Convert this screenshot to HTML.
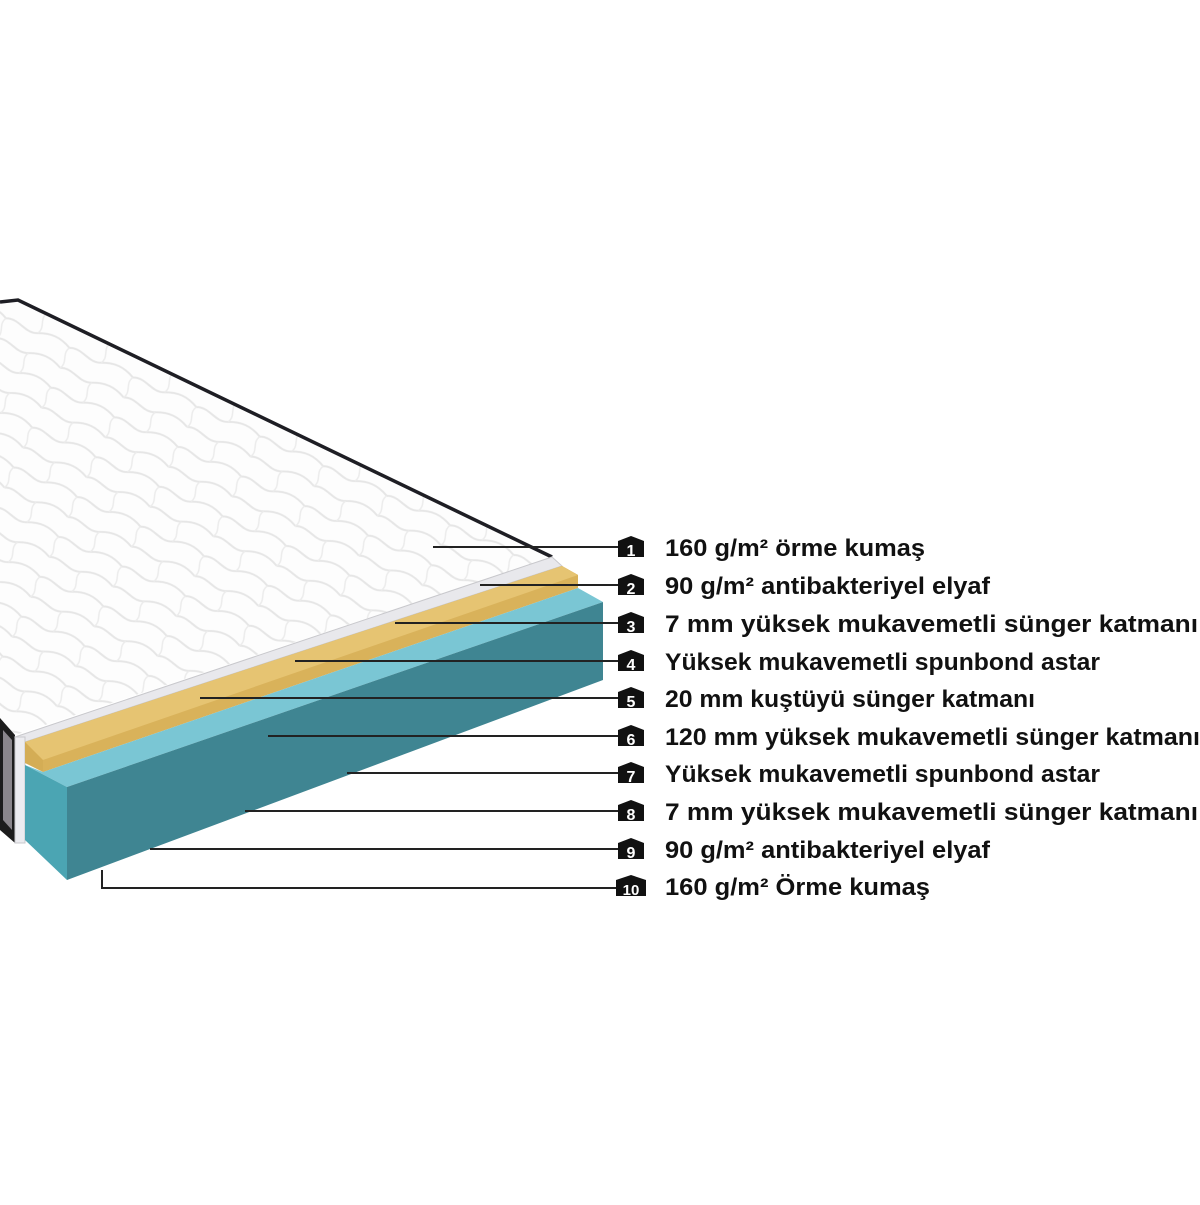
<!DOCTYPE html>
<html><head><meta charset="utf-8"><style>
body{margin:0;background:#fff;width:1200px;height:1200px;overflow:hidden;font-family:"Liberation Sans",sans-serif}
</style></head><body>
<svg width="1200" height="1200" viewBox="0 0 1200 1200" xmlns="http://www.w3.org/2000/svg">
<defs>
<pattern id="q" width="70" height="44" patternUnits="userSpaceOnUse" patternTransform="rotate(25)">
<rect width="70" height="44" fill="#fdfdfd"/>
<path d="M0 22 C12 16,23 28,35 22 S58 16,70 22" fill="none" stroke="#e6e6e6" stroke-width="2"/>
<path d="M0 0 C12 -6,23 6,35 0 S58 -6,70 0 M0 44 C12 38,23 50,35 44 S58 38,70 44" fill="none" stroke="#e6e6e6" stroke-width="2"/>
<path d="M35 0 C30 8,40 14,35 22 M0 22 C-5 30,5 36,0 44 M70 22 C65 30,75 36,70 44" fill="none" stroke="#ececec" stroke-width="1.5"/>
</pattern>
<clipPath id="top"><polygon points="0,300 18,299 552,557 15,735 0,725"/></clipPath>
</defs>
<polygon points="0,300 18,299 552,557 15,735 0,725" fill="#fbfbfb"/>
<rect x="0" y="280" width="600" height="480" fill="url(#q)" clip-path="url(#top)"/>
<polyline points="0,302 18,300 552,557" fill="none" stroke="#1e1e24" stroke-width="3.5"/>
<polygon points="0,718 15,735 15,843 0,830" fill="#1c1c1c"/>
<polygon points="3,730 12,740 12,830 3,820" fill="#8a868c"/>
<polygon points="552,557 562,566 25,742 15,737" fill="#e8e8ec" stroke="#c8c8cc" stroke-width="1"/>
<rect x="15" y="737" width="10" height="106" fill="#ececf0" stroke="#c8c8cc" stroke-width="1"/>
<polygon points="562,566 578,575 43,772 25,763 25,742" fill="#d4ad55"/>
<polygon points="562,566 578,575 578,588 43,772 43,760" fill="#d9b25a"/>
<polygon points="562,566 578,575 43,760 25,742" fill="#e6c472"/>
<polygon points="578,588 603,602 67,787 25,765 43,772" fill="#7ac6d4"/>
<polygon points="603,602 603,680 67,880 67,787" fill="#3f8592"/>
<polygon points="25,765 67,787 67,880 25,840" fill="#4ba5b3"/>
<g stroke="#222" stroke-width="2" fill="none">
<line x1="433" y1="547" x2="620" y2="547"/>
<line x1="480" y1="585" x2="620" y2="585"/>
<line x1="395" y1="623" x2="620" y2="623"/>
<line x1="295" y1="661" x2="620" y2="661"/>
<line x1="200" y1="698" x2="620" y2="698"/>
<line x1="268" y1="736" x2="620" y2="736"/>
<line x1="347" y1="773" x2="620" y2="773"/>
<line x1="245" y1="811" x2="620" y2="811"/>
<line x1="150" y1="849" x2="620" y2="849"/>
<polyline points="102,870 102,888 620,888"/>
</g>
<g font-family="Liberation Sans,sans-serif" font-weight="bold">
<g fill="#111">
<polygon points="618,541 631,536 644,541 644,557 618,557"/>
<polygon points="618,579 631,574 644,579 644,595 618,595"/>
<polygon points="618,617 631,612 644,617 644,633 618,633"/>
<polygon points="618,655 631,650 644,655 644,671 618,671"/>
<polygon points="618,692 631,687 644,692 644,708 618,708"/>
<polygon points="618,730 631,725 644,730 644,746 618,746"/>
<polygon points="618,767 631,762 644,767 644,783 618,783"/>
<polygon points="618,805 631,800 644,805 644,821 618,821"/>
<polygon points="618,843 631,838 644,843 644,859 618,859"/>
<polygon points="616,880 631,875 646,880 646,896 616,896"/>
</g>
<g fill="#fff" font-size="16" text-anchor="middle">
<text x="631" y="556">1</text><text x="631" y="594">2</text><text x="631" y="632">3</text>
<text x="631" y="670">4</text><text x="631" y="707">5</text><text x="631" y="745">6</text>
<text x="631" y="782">7</text><text x="631" y="820">8</text><text x="631" y="858">9</text>
<text x="631" y="895" font-size="15">10</text>
</g>
<g fill="#111" font-size="24" lengthAdjust="spacingAndGlyphs">
<text x="665" y="556" textLength="260" lengthAdjust="spacingAndGlyphs">160 g/m² örme kumaş</text>
<text x="665" y="594" textLength="325" lengthAdjust="spacingAndGlyphs">90 g/m² antibakteriyel elyaf</text>
<text x="665" y="632" textLength="533" lengthAdjust="spacingAndGlyphs">7 mm yüksek mukavemetli sünger katmanı</text>
<text x="665" y="670" textLength="435" lengthAdjust="spacingAndGlyphs">Yüksek mukavemetli spunbond astar</text>
<text x="665" y="707" textLength="370" lengthAdjust="spacingAndGlyphs">20 mm kuştüyü sünger katmanı</text>
<text x="665" y="745" textLength="535" lengthAdjust="spacingAndGlyphs">120 mm yüksek mukavemetli sünger katmanı</text>
<text x="665" y="782" textLength="435" lengthAdjust="spacingAndGlyphs">Yüksek mukavemetli spunbond astar</text>
<text x="665" y="820" textLength="533" lengthAdjust="spacingAndGlyphs">7 mm yüksek mukavemetli sünger katmanı</text>
<text x="665" y="858" textLength="325" lengthAdjust="spacingAndGlyphs">90 g/m² antibakteriyel elyaf</text>
<text x="665" y="895" textLength="265" lengthAdjust="spacingAndGlyphs">160 g/m² Örme kumaş</text>
</g>
</g>
</svg>
</body></html>
